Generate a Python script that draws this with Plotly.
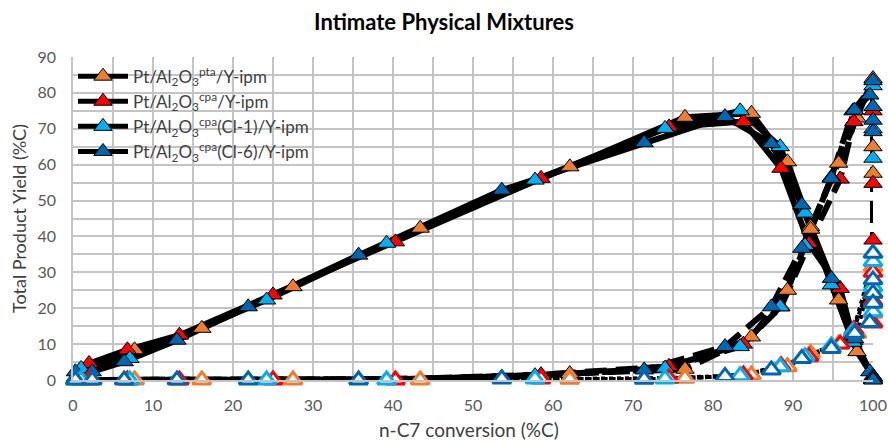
import plotly.graph_objects as go

# ---------------- data ----------------
names = ["Pt/Al<sub>2</sub>O<sub>3</sub><sup>pta</sup>/Y-ipm",
         "Pt/Al<sub>2</sub>O<sub>3</sub><sup>cpa</sup>/Y-ipm",
         "Pt/Al<sub>2</sub>O<sub>3</sub><sup>cpa</sup>(Cl-1)/Y-ipm",
         "Pt/Al<sub>2</sub>O<sub>3</sub><sup>cpa</sup>(Cl-6)/Y-ipm"]
colors = ["#ED7D31", "#FF0000", "#00B0F0", "#0066B0"]

# Pt/Al2O3 pta
conv_pta = [1.0, 7.7, 16.1, 27.5, 43.4, 62.1, 76.5, 84.8, 89.3, 92.2, 95.7, 98.0, 100, 100, 100]
iso_pta = [1.5, 8.4, 14.4, 26.0, 42.3, 59.4, 73.2, 74.3, 60.8, 42.7, 22.3, 7.9, 1.0, 0.5, 0.3]
crack_pta = [0.0, 0.0, 0.0, 0.1, 0.2, 1.8, 3.0, 12.0, 25.0, 42.0, 60.4, 73.0, 84.0, 65.0, 57.6]
open_pta = [0.0, 0.0, 0.0, 0.0, 0.0, 0.2, 0.5, 1.4, 3.7, 7.4, 10.0, 13.0, 31.6, 24.2, 18.6]

# Pt/Al2O3 cpa
conv_cpa = [2.0, 6.8, 13.3, 25.0, 40.3, 58.5, 74.5, 83.8, 88.5, 92.0, 95.9, 97.6, 100, 100, 100]
iso_cpa = [4.6, 8.4, 12.5, 23.7, 38.5, 56.2, 70.5, 72.0, 59.0, 38.0, 25.5, 11.0, 0.5, 0.3, 0.1]
crack_cpa = [0.0, 0.0, 0.0, 0.1, 0.2, 1.5, 3.8, 10.0, 20.4, 38.0, 56.0, 72.0, 75.0, 54.8, 39.0]
open_cpa = [0.0, 0.0, 0.0, 0.0, 0.0, 0.3, 0.5, 1.4, 4.0, 6.5, 10.0, 14.0, 30.0, 22.0, 15.9]

# Pt/Al2O3 cpa (Cl-1)
conv_cl1 = [0.3, 1.0, 7.1, 24.2, 39.2, 57.75, 74.0, 83.4, 88.4, 91.5, 94.8, 97.5, 100, 100, 100]
iso_cl1 = [0.8, 3.2, 6.0, 22.3, 38.1, 55.7, 70.1, 75.0, 65.0, 46.5, 26.5, 10.5, 1.0, 0.5, 0.2]
crack_cl1 = [0.0, 0.0, 0.0, 0.0, 0.1, 1.2, 3.3, 9.3, 20.4, 37.5, 56.5, 75.0, 82.0, 70.0, 61.8]
open_cl1 = [0.0, 0.0, 0.0, 0.0, 0.0, 0.3, 0.3, 1.2, 3.7, 6.5, 9.5, 13.5, 33.0, 26.0, 19.0]

# Pt/Al2O3 cpa (Cl-6)
conv_cl6 = [0.3, 2.4, 6.4, 13.0, 21.9, 35.7, 53.6, 71.4, 81.5, 87.3, 91.1, 94.8, 97.7, 99.6, 100, 100, 100, 100]
iso_cl6 = [2.3, 2.3, 5.1, 11.1, 20.4, 34.8, 52.9, 66.1, 73.4, 65.9, 48.8, 28.3, 11.5, 2.3, 1.0, 0.5, 0.2, 0.0]
crack_cl6 = [0.0, 0.0, 0.0, 0.0, 0.0, 0.2, 0.8, 2.8, 9.3, 20.4, 36.7, 56.2, 75.2, 79.4, 83.4, 76.2, 72.4, 69.2]
open_cl6 = [0.0, 0.0, 0.0, 0.0, 0.0, 0.0, 0.3, 0.2, 1.0, 2.8, 6.0, 8.8, 13.0, 16.0, 35.3, 27.9, 24.2, 21.4]

convs = [conv_pta, conv_cpa, conv_cl1, conv_cl6]
isos = [iso_pta, iso_cpa, iso_cl1, iso_cl6]
cracks = [crack_pta, crack_cpa, crack_cl1, crack_cl6]
opens = [open_pta, open_cpa, open_cl1, open_cl6]

x_ticks = list(range(0, 101, 10))
y_ticks = list(range(0, 91, 10))

# ---------------- figure ----------------
fig = go.Figure()
MS = 16

# open (dotted) series lines
for cv, op in zip(convs, opens):
    fig.add_trace(go.Scatter(
        x=cv, y=op, mode="lines", showlegend=False, hoverinfo="skip",
        line=dict(color="black", width=4, dash="dot")))
# cracking (dashed) lines
for cv, cr in zip(convs, cracks):
    fig.add_trace(go.Scatter(
        x=cv, y=cr, mode="lines", showlegend=False, hoverinfo="skip",
        line=dict(color="black", width=6, dash="22px,9px")))
# isomer (solid) lines
for cv, iso in zip(convs, isos):
    fig.add_trace(go.Scatter(
        x=cv, y=iso, mode="lines", showlegend=False, hoverinfo="skip",
        line=dict(color="black", width=6)))

# filled markers: isomers
for cv, iso, col in zip(convs, isos, colors):
    fig.add_trace(go.Scatter(
        x=cv, y=iso, mode="markers", showlegend=False, cliponaxis=False,
        marker=dict(symbol="triangle-up", size=MS, color=col,
                    line=dict(color="black", width=1))))
# filled markers: cracking
for cv, cr, col in zip(convs, cracks, colors):
    fig.add_trace(go.Scatter(
        x=cv, y=cr, mode="markers", showlegend=False, cliponaxis=False,
        marker=dict(symbol="triangle-up", size=MS, color=col,
                    line=dict(color="black", width=1))))
# open markers
for cv, op, col in zip(convs, opens, colors):
    fig.add_trace(go.Scatter(
        x=cv, y=op, mode="markers", showlegend=False, cliponaxis=False,
        marker=dict(symbol="triangle-up", size=MS, color="white",
                    line=dict(color=col, width=3))))

# legend entries
for col, nm in zip(colors, names):
    fig.add_trace(go.Scatter(
        x=[None], y=[None], mode="lines+markers", name=nm,
        line=dict(color="black", width=5),
        marker=dict(symbol="triangle-up", size=MS, color=col,
                    line=dict(color="black", width=1))))

FONT = "Lato, Liberation Sans, sans-serif"
axis_font = dict(family=FONT, size=16, color="#595959")
fig.update_layout(
    width=888, height=443,
    margin=dict(l=73, r=15, t=57, b=63, autoexpand=False),
    paper_bgcolor="white", plot_bgcolor="white",
    font=dict(family=FONT, color="#404040"),
    title=dict(text="<b>Intimate Physical Mixtures</b>", x=0.5, xanchor="center",
               y=0.95, yanchor="middle",
               font=dict(family=FONT, size=22, color="black")),
    showlegend=True,
    legend=dict(x=0.0, y=0.995, xanchor="left", yanchor="top",
                bgcolor="rgba(0,0,0,0)", font=dict(size=17, color="#404040"),
                itemwidth=50, tracegroupgap=0),
    xaxis=dict(range=[0, 100], tickvals=x_ticks, ticktext=[str(v) for v in x_ticks],
               automargin=False,
               showgrid=True, gridcolor="#c4c4c4", gridwidth=1.5,
               minor=dict(dtick=5, showgrid=True, gridcolor="#c4c4c4", gridwidth=1.5),
               zeroline=False, showline=True, linecolor="#c4c4c4", linewidth=1.5,
               ticks="", tickfont=axis_font, ticklabelstandoff=10),
    yaxis=dict(range=[0, 90], tickvals=y_ticks, ticktext=[str(v) for v in y_ticks],
               automargin=False,
               showgrid=True, gridcolor="#c4c4c4", gridwidth=1.5,
               minor=dict(dtick=5, showgrid=True, gridcolor="#c4c4c4", gridwidth=1.5),
               zeroline=False, showline=True, linecolor="#c4c4c4", linewidth=1.5,
               ticks="", tickfont=axis_font, ticklabelstandoff=12,
               title=dict(text="Total Product Yield (%C)", font=dict(size=18, color="#404040"),
                          standoff=6)),
    annotations=[dict(text="n-C7 conversion (%C)", xref="paper", yref="paper",
                      x=0.495, y=0, xanchor="center", yanchor="top", yshift=-36,
                      showarrow=False, font=dict(size=19, color="#404040"))],
)

fig.write_html("out.html")
